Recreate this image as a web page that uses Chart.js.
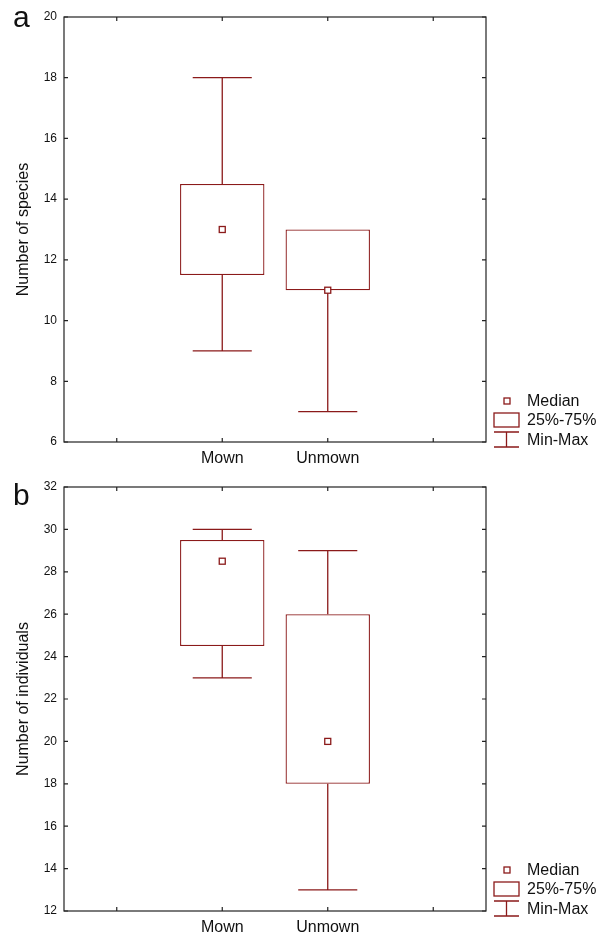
<!DOCTYPE html>
<html>
<head>
<meta charset="utf-8">
<script src="https://cdn.jsdelivr.net/npm/chart.js@4.4.0/dist/chart.umd.min.js"></script>
<style>
  html, body { margin: 0; padding: 0; background: #fff; }
  .panel { position: relative; width: 612px; }
  #wrapA { height: 470px; }
  #wrapB { height: 471px; }
</style>
</head>
<body>
<div class="panel" id="wrapA"><canvas id="chartA"></canvas></div>
<div class="panel" id="wrapB"><canvas id="chartB"></canvas></div>
<script>
// ==== DATA ====
const groups = ["Mown", "Unmown"];

// panel a - number of species
const speciesMin = [9, 7];
const speciesQ1 = [11.5, 11];
const speciesMedian = [13, 11];
const speciesQ3 = [14.5, 13];
const speciesMax = [18, 13];

// panel b - number of individuals
const indivMin = [23, 13];
const indivQ1 = [24.5, 18];
const indivMedian = [28.5, 20];
const indivQ3 = [29.5, 26];
const indivMax = [30, 29];

const legendLabels = ["Median", "25%-75%", "Min-Max"];

// ==== STYLE ====
const RED = "#8b1a1a";
const AXIS = "#222";
const FONT = "'Liberation Sans', Arial, sans-serif";

// ==== PLUGIN: whiskers, medians, frame, inward ticks, legend ====
const boxExtras = {
  id: "boxExtras",
  afterDatasetsDraw(chart, args, opts) {
    const { ctx, chartArea: area } = chart;
    const x = chart.scales.x;
    const y = chart.scales.y;
    const meta = chart.getDatasetMeta(0);

    ctx.save();
    ctx.strokeStyle = RED;
    ctx.lineWidth = 1.3;

    opts.median.forEach((med, i) => {
      const bar = meta.data[i + 1];
      const cx = bar.x;
      const capHalf = bar.width * 0.35;
      const yMin = y.getPixelForValue(opts.min[i]);
      const yQ1 = y.getPixelForValue(opts.q1[i]);
      const yQ3 = y.getPixelForValue(opts.q3[i]);
      const yMax = y.getPixelForValue(opts.max[i]);

      ctx.beginPath();
      if (opts.max[i] > opts.q3[i]) {
        ctx.moveTo(cx, yQ3); ctx.lineTo(cx, yMax);
        ctx.moveTo(cx - capHalf, yMax); ctx.lineTo(cx + capHalf, yMax);
      }
      if (opts.min[i] < opts.q1[i]) {
        ctx.moveTo(cx, yQ1); ctx.lineTo(cx, yMin);
        ctx.moveTo(cx - capHalf, yMin); ctx.lineTo(cx + capHalf, yMin);
      }
      ctx.stroke();

      const ym = y.getPixelForValue(med);
      ctx.fillStyle = "#fff";
      ctx.fillRect(cx - 3, ym - 3, 6, 6);
      ctx.strokeRect(cx - 3, ym - 3, 6, 6);
    });

    // frame
    ctx.strokeStyle = AXIS;
    ctx.lineWidth = 1.2;
    ctx.strokeRect(area.left, area.top, area.right - area.left, area.bottom - area.top);

    // inward ticks on all four sides
    ctx.beginPath();
    y.ticks.forEach(t => {
      const py = y.getPixelForValue(t.value);
      ctx.moveTo(area.left, py); ctx.lineTo(area.left + 4, py);
      ctx.moveTo(area.right, py); ctx.lineTo(area.right - 4, py);
    });
    chart.data.labels.forEach((l, i) => {
      const px = x.getPixelForValue(i);
      ctx.moveTo(px, area.top); ctx.lineTo(px, area.top + 4);
      ctx.moveTo(px, area.bottom); ctx.lineTo(px, area.bottom - 4);
    });
    ctx.stroke();

    // legend
    const lx = area.right;
    const by = area.bottom;
    ctx.strokeStyle = RED;
    ctx.lineWidth = 1.3;
    ctx.strokeRect(lx + 18, by - 44, 6, 6);
    ctx.strokeRect(lx + 8, by - 29, 25, 14);
    ctx.beginPath();
    ctx.moveTo(lx + 8, by - 10); ctx.lineTo(lx + 33, by - 10);
    ctx.moveTo(lx + 20.5, by - 10); ctx.lineTo(lx + 20.5, by + 5);
    ctx.moveTo(lx + 8, by + 5); ctx.lineTo(lx + 33, by + 5);
    ctx.stroke();

    ctx.fillStyle = "#111";
    ctx.font = "16px " + FONT;
    ctx.textBaseline = "middle";
    ctx.textAlign = "left";
    ctx.fillText(legendLabels[0], lx + 41, by - 40);
    ctx.fillText(legendLabels[1], lx + 41, by - 21);
    ctx.fillText(legendLabels[2], lx + 41, by - 1);

    // panel letter
    ctx.font = "30px " + FONT;
    ctx.textBaseline = "alphabetic";
    ctx.fillText(opts.letter, 13, opts.letterY);
    ctx.restore();
  }
};

// ==== BUILD ONE PANEL ====
function makePanel(canvasId, cfg) {
  const labels = ["", ...groups, ""];
  const boxes = [null, ...cfg.q1.map((q, i) => [q, cfg.q3[i]]), null];

  return new Chart(document.getElementById(canvasId), {
    type: "bar",
    data: {
      labels,
      datasets: [{
        data: boxes,
        backgroundColor: "#fff",
        borderColor: RED,
        borderWidth: 1.3,
        borderSkipped: false,
        categoryPercentage: 1,
        barPercentage: 0.8
      }]
    },
    options: {
      responsive: true,
      maintainAspectRatio: false,
      animation: false,
      layout: { padding: { top: 17, right: 126, left: 0, bottom: 0 } },
      plugins: {
        legend: { display: false },
        tooltip: { enabled: false },
        boxExtras: cfg
      },
      scales: {
        x: {
          grid: { display: false, drawTicks: false },
          border: { display: false },
          ticks: { color: "#111", font: { family: FONT, size: 16 }, padding: 7, maxRotation: 0, autoSkip: false },
          afterFit(scale) { scale.height = cfg.xHeight; }
        },
        y: {
          min: cfg.yMin,
          max: cfg.yMax,
          grid: { display: false, drawTicks: false },
          border: { display: false },
          ticks: { stepSize: 2, color: "#111", font: { family: FONT, size: 12 }, padding: 7 },
          title: {
            display: true,
            text: cfg.title,
            color: "#111",
            font: { family: FONT, size: 16 },
            padding: { top: 14, bottom: 0 }
          },
          afterFit(scale) { scale.width = 64; }
        }
      }
    },
    plugins: [boxExtras]
  });
}

makePanel("chartA", {
  min: speciesMin, q1: speciesQ1, median: speciesMedian, q3: speciesQ3, max: speciesMax,
  yMin: 6, yMax: 20, title: "Number of species",
  letter: "a", letterY: 27, xHeight: 28
});

makePanel("chartB", {
  min: indivMin, q1: indivQ1, median: indivMedian, q3: indivQ3, max: indivMax,
  yMin: 12, yMax: 32, title: "Number of individuals",
  letter: "b", letterY: 35, xHeight: 30
});
</script>
</body>
</html>
